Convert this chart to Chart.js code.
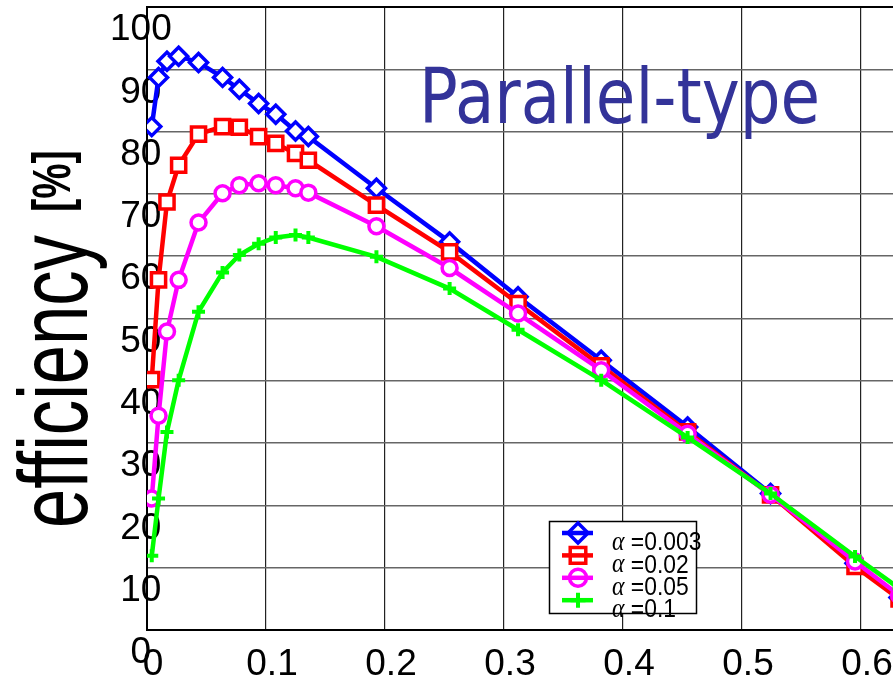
<!DOCTYPE html>
<html lang="en">
<head>
  <meta charset="UTF-8" />
  <title>Parallel-type efficiency</title>
  <style>
    html, body {
      margin: 0;
      padding: 0;
      background: #fff;
      overflow: hidden;
    }
    #chart-container {
      width: 893px;
      height: 686px;
    }
  </style>
</head>
<body>
  <div id="chart-container">
    <canvas id="effChart" width="893" height="686"></canvas>
  </div>

  <script src="https://cdn.jsdelivr.net/npm/chart.js"></script>
  <script>
    // measured operating points (shared by all four curves)
    const currentValues = [0.004, 0.0097, 0.0168, 0.0266, 0.0433, 0.0635, 0.0776, 0.0938, 0.1082, 0.1248, 0.1356,
                           0.1928, 0.2543, 0.3118, 0.3817, 0.4543, 0.524, 0.595, 0.632];

    // efficiency [%] for each alpha
    const effAlpha0003 = [80.8, 88.7, 91.3, 92.1, 91.1, 88.7, 86.8, 84.5, 82.8, 80.1, 79.2,
                          70.9, 62.3, 53.5, 43.3, 32.6, 21.9, 10.7, 5.2];
    const effAlpha002  = [40.2, 56.2, 68.7, 74.6, 79.6, 80.8, 80.7, 79.2, 78.1, 76.5, 75.4,
                          68.2, 60.7, 52.4, 42.4, 31.8, 21.7, 10.2, 5.0];
    const effAlpha005  = [21.1, 34.4, 47.9, 56.2, 65.4, 70.1, 71.4, 71.7, 71.4, 70.9, 70.2,
                          64.8, 58.1, 50.8, 41.7, 31.5, 21.7, 11.0, 5.6];
    const effAlpha01   = [11.9, 21.1, 31.8, 40.1, 51.1, 57.4, 60.2, 62.0, 63.0, 63.4, 63.0,
                          59.9, 54.8, 48.2, 40.1, 30.9, 21.9, 11.8, 6.7];

    const seriesLabels = ['α =0.003', 'α =0.02', 'α =0.05', 'α =0.1'];
    const xTickValues = [0, 0.1, 0.2, 0.3, 0.4, 0.5, 0.6];
    const yTickValues = [0, 10, 20, 30, 40, 50, 60, 70, 80, 90, 100];

    const toPoints = ys => currentValues.map((x, i) => ({ x: x, y: ys[i] }));

    function makeSeries(label, ys, color, style, radius, order) {
      return {
        label: label,
        data: toPoints(ys),
        borderColor: color,
        backgroundColor: color,
        borderWidth: 4.5,
        pointStyle: style,
        pointRadius: radius,
        pointBorderWidth: style === 'cross' ? 4 : 3.5,
        pointBackgroundColor: '#fff',
        pointBorderColor: color,
        tension: 0,
        order: order
      };
    }

    // texts that are not part of the axes: panel title, y title, legend box
    const decorations = {
      id: 'decorations',
      afterDraw(chart, args, opts) {
        const { ctx, chartArea } = chart;

        // panel title
        ctx.save();
        ctx.fillStyle = '#333399';
        ctx.font = '77px "DejaVu Sans"';
        ctx.textAlign = 'left';
        ctx.textBaseline = 'alphabetic';
        ctx.translate(chartArea.left + 272, chartArea.top + 116);
        ctx.scale(0.835, 1);
        ctx.fillText('Parallel-type', 0, 0);
        ctx.restore();

        // y axis title, condensed
        ctx.save();
        ctx.fillStyle = '#000';
        ctx.textAlign = 'left';
        ctx.textBaseline = 'alphabetic';
        ctx.translate(87, 528);
        ctx.rotate(-Math.PI / 2);
        ctx.scale(0.72, 1);
        ctx.font = '98px "Liberation Sans"';
        ctx.fillText('efficiency', 0, 0);
        ctx.restore();

        ctx.save();
        ctx.fillStyle = '#000';
        ctx.textAlign = 'left';
        ctx.textBaseline = 'alphabetic';
        ctx.translate(70, 212);
        ctx.rotate(-Math.PI / 2);
        ctx.scale(0.75, 1);
        ctx.font = 'bold 53px "Liberation Sans"';
        ctx.fillText('[%]', 0, 0);
        ctx.restore();

        // legend
        const L = opts.left, T = opts.top;
        ctx.save();
        ctx.fillStyle = '#fff';
        ctx.fillRect(L, T, opts.width, opts.height);
        ctx.strokeStyle = '#000';
        ctx.lineWidth = 1.5;
        ctx.strokeRect(L + 0.5, T + 0.5, opts.width, opts.height);

        chart.data.datasets.forEach((ds, i) => {
          const y = T + 12 + i * 22.4;
          const mx = L + 29;
          ctx.fillStyle = '#fff';
          ctx.strokeStyle = ds.borderColor;
          ctx.lineWidth = ds.pointBorderWidth;
          Chart.helpers.drawPoint(ctx, {
            pointStyle: ds.pointStyle,
            radius: ds.pointRadius + 1,
            borderWidth: ds.pointBorderWidth,
            rotation: 0
          }, mx, y);
          ctx.lineWidth = 4.5;
          ctx.beginPath();
          ctx.moveTo(L + 13, y);
          ctx.lineTo(L + 44, y);
          ctx.stroke();

          const greek = ds.label.charAt(0);
          const rest = ds.label.slice(1);
          ctx.fillStyle = '#000';
          ctx.textBaseline = 'middle';
          ctx.textAlign = 'left';
          ctx.save();
          ctx.translate(L + 63, y + 10);
          ctx.scale(0.88, 1);
          ctx.font = 'italic 27px "Liberation Serif"';
          ctx.fillText(greek, 0, 0);
          const gw = ctx.measureText(greek).width;
          ctx.font = '26px "Liberation Sans"';
          ctx.fillText(rest, gw, 0);
          ctx.restore();
        });
        ctx.restore();
      }
    };

    const ctx = document.getElementById('effChart').getContext('2d');

    new Chart(ctx, {
      type: 'line',
      data: {
        datasets: [
          makeSeries(seriesLabels[0], effAlpha0003, '#0000ff', 'rectRot', 9, 3),
          makeSeries(seriesLabels[1], effAlpha002, '#ff0000', 'rect', 10, 2),
          makeSeries(seriesLabels[2], effAlpha005, '#ff00ff', 'circle', 7.5, 1),
          makeSeries(seriesLabels[3], effAlpha01, '#00ff00', 'cross', 6.5, 0)
        ]
      },
      options: {
        responsive: false,
        animation: false,
        layout: { autoPadding: false, padding: { top: 7, right: 0, bottom: 0, left: 0 } },
        plugins: {
          legend: { display: false },
          tooltip: { enabled: false },
          decorations: { left: 549, top: 521, width: 147, height: 92 }
        },
        scales: {
          x: {
            type: 'linear',
            min: 0,
            max: 0.6269,
            afterBuildTicks: scale => {
              scale.ticks = xTickValues.map(v => ({ value: v }));
            },
            afterFit: scale => {
              scale.height = 56;
              scale.paddingLeft = 0;
              scale.paddingRight = 0;
            },
            ticks: {
              autoSkip: false,
              maxRotation: 0,
              padding: 13,
              labelOffset: 6,
              color: '#000',
              font: { family: 'Liberation Sans', size: 37 },
              callback: v => (v === 0 ? '0' : v.toFixed(1))
            },
            grid: { color: '#222', lineWidth: 1.2, drawTicks: false },
            border: { color: '#000', width: 2 }
          },
          y: {
            type: 'linear',
            min: 0,
            max: 100,
            afterBuildTicks: scale => {
              scale.ticks = yTickValues.map(v => ({ value: v }));
            },
            afterFit: scale => {
              scale.width = 147;
              scale.paddingTop = 0;
              scale.paddingBottom = 0;
            },
            ticks: {
              autoSkip: false,
              // mirrored so the wide labels may run over the axis line
              mirror: true,
              padding: -37,
              crossAlign: 'center',
              labelOffset: 23,
              color: '#000',
              font: { family: 'Liberation Sans', size: 37 },
              callback: v => String(v)
            },
            grid: {
              color: c => (c.tick && c.tick.value === 100 ? '#000' : '#666'),
              lineWidth: c => (c.tick && c.tick.value === 100 ? 2 : 1.5),
              drawTicks: false
            },
            border: { color: '#000', width: 2 }
          }
        }
      },
      plugins: [decorations]
    });
  </script>
</body>
</html>
